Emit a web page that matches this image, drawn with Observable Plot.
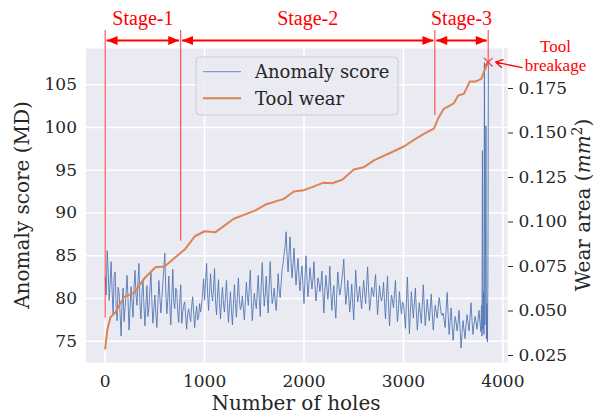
<!DOCTYPE html>
<html><head><meta charset="utf-8">
<script src="https://cdn.jsdelivr.net/npm/d3@7"></script>
<script src="https://cdn.jsdelivr.net/npm/@observablehq/plot@0.6"></script>
<style>
body{margin:0;background:#fff;}
#chart{width:603px;height:414px;}
</style></head><body><div id="chart"></div>
<script>
// ---------- data ----------
const scoreStep = 20; // holes between samples of the anomaly score (0..3780)
const anomalyScore = [
  82.5, 85.6, 79.8, 84.3, 78.2, 83.1, 77.4, 80.6, 75.6, 81.2,
  78.9, 82.7, 76.3, 81.4, 77.8, 83.3, 79.2, 84.1, 77.6, 82.3,
  76.8, 81.5, 78.9, 83.2, 77.1, 80.4, 76.6, 82.1, 78.3, 81.7,
  85.3, 78.2, 82.6, 76.9, 83.4, 78.8, 80.9, 77.2, 81.6, 78.4,
  79.6, 76.4, 78.8, 77.3, 80.2, 76.6, 79.1, 77.8, 78.4, 80.7,
  79.8, 84.1, 78.6, 82.9, 79.7, 83.5, 78.1, 82.2, 77.6, 81.3,
  78.4, 82.1, 77.2, 80.8, 76.9, 81.6, 77.8, 82.4, 78.7, 80.3,
  77.5, 81.9, 79.2, 83.3, 77.4, 80.6, 78.8, 82.7, 77.9, 84.2,
  79.1, 82.6, 78.3, 84.3, 79.4, 81.2, 78.6, 82.9, 80.1, 83.4,
  85.2, 87.8, 83.1, 87.2, 82.4, 85.9, 81.6, 84.7, 80.9, 83.8,
  79.4, 85.0, 80.2, 83.6, 81.1, 84.3, 79.7, 82.4, 80.8, 83.2,
  78.3, 82.7, 79.9, 83.8, 78.6, 81.5, 77.7, 83.1, 80.4, 82.2,
  84.6, 79.3, 82.1, 78.4, 81.7, 77.5, 83.3, 79.6, 81.4, 78.8,
  82.1, 79.4, 83.7, 78.6, 81.3, 80.2, 82.8, 78.1, 81.5, 79.7,
  81.9, 77.6, 82.6, 76.8, 80.4, 78.9, 82.1, 77.3, 80.8, 78.2,
  79.4, 76.5, 82.5, 75.9, 80.8, 77.7, 81.2, 76.3, 79.5, 77.1,
  81.6, 76.8, 79.9, 77.4, 80.5, 76.3, 79.2, 77.7, 80.1, 78.2,
  78.3, 76.6, 80.7, 75.8, 78.9, 75.1, 77.9, 76.2, 78.6, 74.2,
  77.4, 75.3, 78.1, 76.2, 79.5, 75.8, 77.9, 76.4, 78.6, 76.1
];
// samples in between (holes 10, 30, ..., 3770)
const anomalyScoreMid = [
  80.4, 83.2, 81.9, 80.7, 82.6, 79.1, 81.3, 78.2, 79.4, 77.3,
  80.6, 79.8, 78.9, 79.6, 81.2, 80.4, 82.1, 79.3, 80.5, 79.1,
  79.3, 77.9, 81.1, 79.6, 78.8, 78.1, 79.4, 80.2, 79.9, 83.6,
  80.7, 79.9, 79.2, 80.1, 79.6, 81.2, 78.3, 79.7, 77.1, 79.2,
  77.8, 78.2, 77.9, 79.1, 78.3, 78.1, 77.5, 79.4, 79.2, 82.3,
  82.1, 80.6, 80.9, 80.6, 81.2, 79.6, 80.4, 79.4, 79.8, 79.3,
  80.2, 79.4, 79.1, 78.6, 79.3, 79.4, 80.2, 79.9, 79.1, 78.8,
  79.6, 80.3, 81.4, 79.8, 79.1, 79.6, 80.9, 79.8, 81.6, 81.4,
  80.5, 80.2, 81.7, 81.3, 80.1, 79.7, 80.4, 81.1, 81.8, 84.1,
  86.1, 84.9, 85.4, 84.1, 84.2, 83.2, 83.4, 82.3, 82.7, 81.5,
  82.6, 82.1, 81.8, 82.4, 82.3, 81.6, 80.8, 81.9, 81.7, 80.6,
  80.9, 81.3, 81.4, 80.7, 80.4, 79.2, 80.6, 81.5, 81.1, 83.1,
  81.6, 80.4, 80.2, 79.8, 79.4, 80.6, 81.2, 80.3, 79.9, 80.7,
  80.6, 81.5, 80.9, 79.7, 80.8, 81.6, 80.3, 79.9, 80.2, 80.4,
  79.5, 80.3, 79.4, 78.9, 79.8, 80.6, 79.4, 78.8, 79.3, 79.6,
  78.1, 79.4, 79.1, 78.4, 79.2, 79.5, 78.6, 78.1, 78.2, 79.3,
  78.9, 78.4, 78.6, 78.8, 78.3, 77.8, 78.4, 78.9, 79.2, 78.0,
  77.4, 78.7, 78.1, 77.4, 76.9, 76.6, 77.2, 77.3, 76.4, 76.0,
  76.3, 76.9, 77.2, 77.8, 77.4, 76.9, 77.3, 77.4, 77.2
];
const spikeHoles  = [3785, 3790, 3795, 3800, 3805, 3810, 3815, 3820, 3825, 3830, 3835, 3840, 3845, 3850, 3855];
const spikeScores = [79.2, 75.6, 97.3, 76.4, 80.8, 75.8, 107.6, 76.9, 85.8, 100.2, 75.3, 79.4, 74.9, 82.6, 107.5];

const wearHoles = [0, 20, 53, 104, 187, 288, 405, 506, 597, 808, 902, 1002, 1110, 1294, 1512, 1613, 1797, 1898,
  1998, 2082, 2190, 2283, 2384, 2501, 2602, 2703, 2870, 3004, 3122, 3206, 3306, 3356, 3406, 3507, 3551,
  3608, 3668, 3725, 3783, 3809, 3853];
const wearArea = [0.0288, 0.039, 0.0465, 0.0493, 0.0578, 0.0602, 0.069, 0.0746, 0.075, 0.085, 0.092, 0.0948, 0.0943,
  0.1018, 0.1065, 0.1098, 0.113, 0.1171, 0.1179, 0.1196, 0.122, 0.1218, 0.1237, 0.1295, 0.1308, 0.1346, 0.1389,
  0.1424, 0.1467, 0.1495, 0.1524, 0.1589, 0.1636, 0.1667, 0.1711, 0.172, 0.1789, 0.1789, 0.1804, 0.1842, 0.1898];

const xTicks = [0, 1000, 2000, 3000, 4000];
const scoreTicks = [75, 80, 85, 90, 95, 100, 105];
const wearTicks = [0.025, 0.050, 0.075, 0.100, 0.125, 0.150, 0.175];

const stageNames = ["Stage-1", "Stage-2", "Stage-3"];
const stageBounds = [0, 759, 3316, 3853];          // holes
const stageLineBottoms = [77.7, 86.7, 101.4, 107.7]; // score level where each marker line ends
const breakageHole = 3853, breakageWear = 0.1898;

// ---------- scales ----------
const xDomain = [-193, 4047];
const scoreDomain = [72.508, 109.245];
const wearDomain = [0.02107, 0.19747];
const toScore = d3.scaleLinear().domain(wearDomain).range(scoreDomain);

// annotation levels (in score units, above the frame)
const labelLevel = 112.76, arrowLevel = 110.18, lineTopLevel = 111.35;

const anomaly = anomalyScore.map((s, i) => ({hole: i * scoreStep, score: s}))
  .concat(anomalyScoreMid.map((s, i) => ({hole: i * scoreStep + scoreStep / 2, score: s})))
  .sort((a, b) => a.hole - b.hole)
  .concat(spikeHoles.map((h, i) => ({hole: h, score: spikeScores[i]})));
const wear = wearHoles.map((h, i) => ({hole: h, wear: wearArea[i]}));
const stages = stageNames.map((n, i) => ({name: n, x1: stageBounds[i], x2: stageBounds[i + 1]}));
const lines = stageBounds.map((b, i) => ({hole: b, bottom: stageLineBottoms[i]}));

const gap = 14;
const headRight = {draw(ctx) { ctx.moveTo(0, 0); ctx.lineTo(-11, -4.5); ctx.lineTo(-11, 4.5); ctx.closePath(); }};
const headLeft  = {draw(ctx) { ctx.moveTo(0, 0); ctx.lineTo(11, -4.5); ctx.lineTo(11, 4.5); ctx.closePath(); }};

const plot = Plot.plot({
  width: 603, height: 414,
  marginTop: 48, marginRight: 96, marginBottom: 52, marginLeft: 85.5,
  style: {fontFamily: "'DejaVu Serif', serif", fontSize: "17px", color: "#262626", background: "white"},
  x: {domain: xDomain},
  y: {domain: scoreDomain},
  marks: [
    Plot.frame({fill: "#eaeaf2", stroke: null}),
    Plot.gridX({ticks: xTicks, stroke: "white", strokeOpacity: 1, strokeWidth: 1.6}),
    Plot.gridY({ticks: scoreTicks, stroke: "white", strokeOpacity: 1, strokeWidth: 1.6}),
    Plot.axisX({ticks: xTicks, tickFormat: d3.format("d"), tickSize: 0, tickPadding: 12, label: null}),
    Plot.axisY({ticks: scoreTicks, tickSize: 0, tickPadding: 9, label: null}),
    Plot.axisY({anchor: "right", ticks: wearTicks.map(w => toScore(w)),
      tickFormat: d => d3.format(".3f")(toScore.invert(d)), tickSize: 5, tickPadding: 6, label: null}),
    Plot.line(anomaly, {x: "hole", y: "score", stroke: "#4c72b0", strokeWidth: 1, strokeOpacity: 0.85}),
    Plot.line(wear, {x: "hole", y: d => toScore(d.wear), stroke: "#dd8452", strokeWidth: 2}),
    // stage markers
    Plot.ruleX(lines, {x: "hole", y1: () => lineTopLevel, y2: "bottom", stroke: "#ff2020", strokeWidth: 1.2, strokeOpacity: 0.75}),
    Plot.link(stages, {x1: d => d.x1 + gap, x2: d => d.x2 - gap, y1: () => arrowLevel, y2: () => arrowLevel, stroke: "red", strokeWidth: 2}),
    Plot.dot(stages, {x: d => d.x1 + gap, y: () => arrowLevel, symbol: headLeft, fill: "red", stroke: null}),
    Plot.dot(stages, {x: d => d.x2 - gap, y: () => arrowLevel, symbol: headRight, fill: "red", stroke: null}),
    Plot.text(stages, {x: d => (d.x1 + d.x2) / 2, y: () => labelLevel, text: "name", fill: "red",
      fontFamily: "'Liberation Serif', serif", fontSize: 20}),
    // tool breakage
    Plot.dot([{hole: breakageHole, wear: breakageWear}], {x: "hole", y: d => toScore(d.wear), symbol: "times", r: 4,
      stroke: "#ff3b3b", strokeWidth: 1.3}),
    Plot.arrow([{hole: breakageHole, wear: breakageWear}], {x1: 4193, y1: 107.0, x2: 3927, y2: 107.65,
      stroke: "red", strokeWidth: 1.3, headLength: 9}),
    Plot.text(["Tool\nbreakage"], {x: () => 4530, y: () => 108.43, text: d => d, fill: "red",
      fontFamily: "'Liberation Serif', serif", fontSize: 17, lineHeight: 1.15})
  ]
});

const svg = d3.select(plot);
// legend
const lg = svg.append("g").attr("font-family", "'DejaVu Serif', serif").attr("font-size", 18).attr("fill", "#262626")
  .attr("text-anchor", "start");
lg.append("rect").attr("x", 196).attr("y", 57).attr("width", 202).attr("height", 58).attr("rx", 4)
  .attr("fill", "#eaeaf2").attr("fill-opacity", 0.8).attr("stroke", "#cccccc").attr("stroke-width", 1);
lg.append("line").attr("x1", 203).attr("x2", 241).attr("y1", 71.7).attr("y2", 71.7)
  .attr("stroke", "#4c72b0").attr("stroke-opacity", 0.8).attr("stroke-width", 1);
lg.append("line").attr("x1", 203).attr("x2", 241).attr("y1", 98.3).attr("y2", 98.3)
  .attr("stroke", "#dd8452").attr("stroke-width", 2);
lg.append("text").attr("x", 255).attr("y", 78).text("Anomaly score");
lg.append("text").attr("x", 255).attr("y", 104.6).text("Tool wear");

// axis titles
const at = svg.append("g").attr("font-family", "'DejaVu Serif', serif").attr("font-size", 20).attr("fill", "#262626")
  .attr("text-anchor", "middle");
at.append("text").attr("x", 296).attr("y", 410).text("Number of holes");
at.append("text").attr("transform", "translate(29,205) rotate(-90)").text("Anomaly score (MD)");
const wt = at.append("text").attr("transform", "translate(590,205) rotate(-90)");
wt.append("tspan").text("Wear area (");
wt.append("tspan").attr("font-style", "italic").text("mm");
wt.append("tspan").attr("font-size", 14).attr("dy", -8).text("2");
wt.append("tspan").attr("dy", 8).text(")");

document.getElementById("chart").appendChild(plot);
</script>
</body></html>
